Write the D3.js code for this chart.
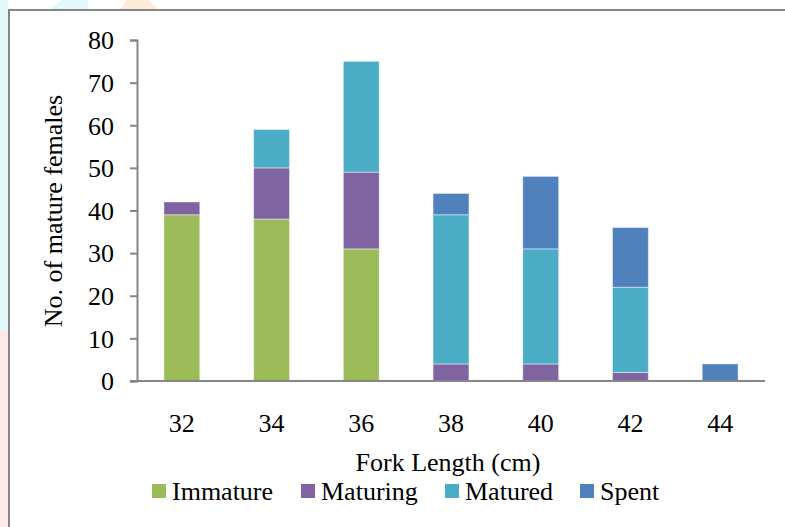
<!DOCTYPE html>
<html>
<head>
<meta charset="utf-8">
<script src="https://cdn.jsdelivr.net/npm/d3@7"></script>
<style>
  html, body { margin: 0; padding: 0; background: #fff; }
  svg { display: block; }
  text { font-family: "Liberation Serif", "Times New Roman", serif; fill: #000; }
</style>
</head>
<body>
<svg id="chart" width="785" height="527"></svg>
<script>
// Fork length classes (cm)
const categories = ["32", "34", "36", "38", "40", "42", "44"];
// Maturity stages, stacked bottom to top
const stages = ["Immature", "Maturing", "Matured", "Spent"];
const immature = [39, 38, 31, 0, 0, 0, 0];
const maturing = [3, 12, 18, 4, 4, 2, 0];
const matured  = [0, 9, 26, 35, 27, 20, 0];
const spent    = [0, 0, 0, 5, 17, 14, 4];
const yTicks = [0, 10, 20, 30, 40, 50, 60, 70, 80];
const colors = ["#9BBB59", "#8064A2", "#4BACC6", "#4F81BD"];

const FONT = 26;
const svg = d3.select("#chart");

// faint decorative background bits at the page edge
const bg = svg.append("g");
bg.append("rect").attr("x", 0).attr("y", 0).attr("width", 8).attr("height", 330).attr("fill", "#e3f8fb");
bg.append("rect").attr("x", 0).attr("y", 330).attr("width", 8).attr("height", 197).attr("fill", "#fde9ea");
bg.append("path").attr("d", "M50,9 L62,0 L88,0 L88,9 Z").attr("fill", "#e3f8fb");
bg.append("path").attr("d", "M121,9 L126,0 L148,0 L158,9 Z").attr("fill", "#fdebd9");

// chart area frame
svg.append("rect")
  .attr("x", 9).attr("y", 10).attr("width", 790).attr("height", 530)
  .attr("fill", "#fff").attr("stroke", "#868686").attr("stroke-width", 2);

const table = categories.map((c, i) => ({
  cat: c, Immature: immature[i], Maturing: maturing[i], Matured: matured[i], Spent: spent[i]
}));
const series = d3.stack().keys(stages)(table);

const x = d3.scaleBand().domain(categories).range([137, 765]).paddingInner(0.6).paddingOuter(0.3);
const y = d3.scaleLinear().domain([0, 80]).range([381, 40]);

// bars
svg.append("g").selectAll("g").data(series).join("g")
  .attr("fill", (d, i) => colors[i])
  .selectAll("rect").data(d => d.filter(s => s[1] - s[0] > 0)).join("rect")
  .attr("x", d => x(d.data.cat))
  .attr("width", x.bandwidth())
  .attr("y", d => y(d[1]))
  .attr("height", d => y(d[0]) - y(d[1]))
  .attr("stroke", "rgba(255,255,255,0.45)")
  .attr("stroke-width", 1);

// y axis
const yAxis = svg.append("g").attr("transform", "translate(137,0)")
  .call(d3.axisLeft(y).tickValues(yTicks).tickSize(7).tickPadding(16).tickFormat(d3.format("d")));
yAxis.attr("font-family", null).attr("font-size", null);
yAxis.select(".domain").attr("stroke", "#868686").attr("stroke-width", 2);
yAxis.selectAll(".tick line").attr("stroke", "#868686").attr("stroke-width", 2);
yAxis.selectAll(".tick text").attr("font-size", FONT).attr("dy", "0.34em").attr("fill", "#000");

// x axis
const xAxis = svg.append("g").attr("transform", "translate(0,381)")
  .call(d3.axisBottom(x).tickSize(0).tickPadding(0));
xAxis.attr("font-family", null).attr("font-size", null);
xAxis.select(".domain").attr("d", "M130,0H765").attr("stroke", "#868686").attr("stroke-width", 2);
xAxis.selectAll(".tick text").attr("font-size", FONT).attr("y", 51).attr("dy", null).attr("fill", "#000");

// axis titles
svg.append("text").attr("x", 448).attr("y", 471).attr("text-anchor", "middle")
  .attr("font-size", FONT).text("Fork Length (cm)");
svg.append("text").attr("transform", "translate(62,211) rotate(-90)").attr("text-anchor", "middle")
  .attr("font-size", FONT).text("No. of mature females");

// legend
const legendX = [152, 301, 445, 580];
const legend = svg.append("g").selectAll("g").data(stages).join("g")
  .attr("transform", (d, i) => `translate(${legendX[i]},484)`);
legend.append("rect").attr("width", 14).attr("height", 14).attr("fill", (d, i) => colors[i]);
legend.append("text").attr("x", 20).attr("y", 16).attr("font-size", FONT).text(d => d);
</script>
</body>
</html>
